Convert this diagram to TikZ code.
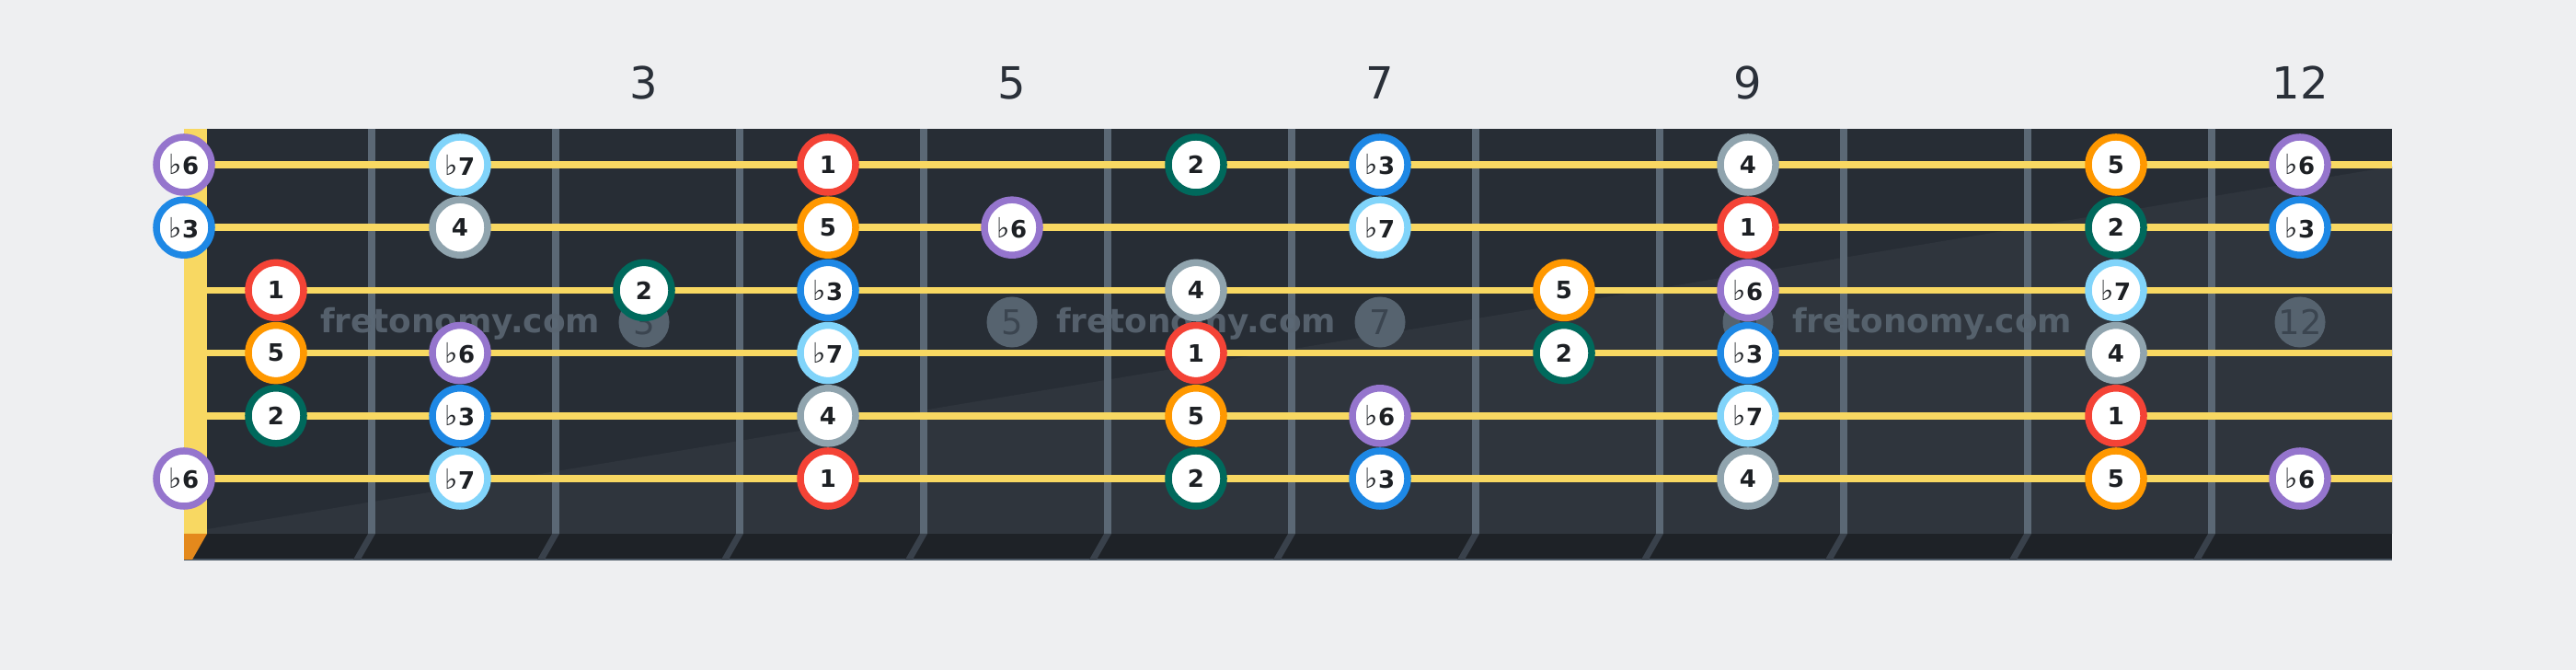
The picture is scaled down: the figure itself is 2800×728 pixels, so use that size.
\documentclass[tikz,border=0pt]{standalone}
\usepackage{fontspec}
\setmainfont{DejaVu Sans}

\definecolor{bg}{HTML}{EEEFF1}
\definecolor{board}{HTML}{272D35}
\definecolor{boardlight}{HTML}{2F353D}
\definecolor{strip}{HTML}{1E2227}
\definecolor{stripedge}{HTML}{4A5663}
\definecolor{fretline}{HTML}{5B6875}
\definecolor{fretslant}{HTML}{39414B}
\definecolor{stringcol}{HTML}{F8D862}
\definecolor{nutorange}{HTML}{E4891C}
\definecolor{inlay}{HTML}{56636F}
\definecolor{inlaytext}{HTML}{3B4550}
\definecolor{numtext}{HTML}{2A3039}
\definecolor{notetext}{HTML}{1D2024}
\definecolor{wmtext}{HTML}{5A6672}
\definecolor{deg1}{HTML}{F44336}
\definecolor{deg2}{HTML}{00695C}
\definecolor{degb3}{HTML}{1E88E5}
\definecolor{deg4}{HTML}{90A4AE}
\definecolor{deg5}{HTML}{FF9800}
\definecolor{degb6}{HTML}{9575CD}
\definecolor{degb7}{HTML}{81D4FA}

\newcommand{\fl}{{\fontsize{8.6pt}{9pt}\selectfont\mdseries ♭}}

\begin{document}
\begin{tikzpicture}[x=0.01cm, y=-0.01cm,
		note/.style={circle, draw=#1, line width=0.075cm, fill=white, minimum size=0.6cm, inner sep=0pt, text=notetext, font=\fontsize{7.4pt}{8pt}\selectfont\bfseries},
		inlaydot/.style={circle, fill=inlay, minimum size=0.55cm, inner sep=0pt, text=inlaytext, font=\fontsize{10.5pt}{12pt}\selectfont},
		fretnum/.style={text=numtext, font=\fontsize{13.66pt}{16pt}\selectfont},
		watermark/.style={text=wmtext, opacity=0.9, font=\fontsize{10.2pt}{12pt}\selectfont\bfseries}]
		\fill[bg] (0,0) rectangle (2800,728);
		\useasboundingbox (0,0) rectangle (2800,728);

		\fill[board] (225,140) rectangle (2600,580);
		\fill[boardlight] (225,575) -- (2600,181) -- (2600,580) -- (225,580) -- cycle;
		\fill[strip] (200,580) rectangle (2600,608);
		\draw[stripedge, line width=0.02cm] (200,608) -- (2600,608);
		\fill[stringcol] (200,140) rectangle (225,580);
		\fill[nutorange] (200,580) -- (225,580) -- (209,608) -- (200,608) -- cycle;

		\foreach \x in {404,604,...,2404} {
			\fill[fretline] (\x-4,140) rectangle (\x+4,580);
			\fill[fretslant] (\x-4,580) -- (\x+4,580) -- (\x-12,608) -- (\x-20,608) -- cycle;
		}

		\foreach \f in {3,5,7,9,12}
			\node[inlaydot] (inlay\f) at (200*\f+100,350) {\f};

		\foreach \y in {179,247.2,315.4,383.6,451.8,520}
			\draw[stringcol, line width=0.075cm] (225,\y) -- (2600,\y);

		\foreach \x [count=\i] in {500,1300,2100}
			\node[watermark, anchor=base] (wm\i) at (\x,362) {fretonomy.com};

		\foreach \s/\f/\t/\c in {
			1/0/\fl6/degb6, 1/2/\fl7/degb7, 1/4/1/deg1, 1/6/2/deg2, 1/7/\fl3/degb3, 1/9/4/deg4, 1/11/5/deg5, 1/12/\fl6/degb6,
			2/0/\fl3/degb3, 2/2/4/deg4, 2/4/5/deg5, 2/5/\fl6/degb6, 2/7/\fl7/degb7, 2/9/1/deg1, 2/11/2/deg2, 2/12/\fl3/degb3,
			3/1/1/deg1, 3/3/2/deg2, 3/4/\fl3/degb3, 3/6/4/deg4, 3/8/5/deg5, 3/9/\fl6/degb6, 3/11/\fl7/degb7,
			4/1/5/deg5, 4/2/\fl6/degb6, 4/4/\fl7/degb7, 4/6/1/deg1, 4/8/2/deg2, 4/9/\fl3/degb3, 4/11/4/deg4,
			5/1/2/deg2, 5/2/\fl3/degb3, 5/4/4/deg4, 5/6/5/deg5, 5/7/\fl6/degb6, 5/9/\fl7/degb7, 5/11/1/deg1,
			6/0/\fl6/degb6, 6/2/\fl7/degb7, 6/4/1/deg1, 6/6/2/deg2, 6/7/\fl3/degb3, 6/9/4/deg4, 6/11/5/deg5, 6/12/\fl6/degb6} {
			\pgfmathsetmacro{\nx}{\f==0 ? 200 : 200*\f+100}
			\pgfmathsetmacro{\ny}{179+68.2*(\s-1)}
			\node[note=\c] (s\s f\f) at (\nx,\ny) {\t};
		}

		\foreach \f in {3,5,7,9,12}
			\node[fretnum] (num\f) at (200*\f+100,90) {\f};
	\end{tikzpicture}
\end{document}
